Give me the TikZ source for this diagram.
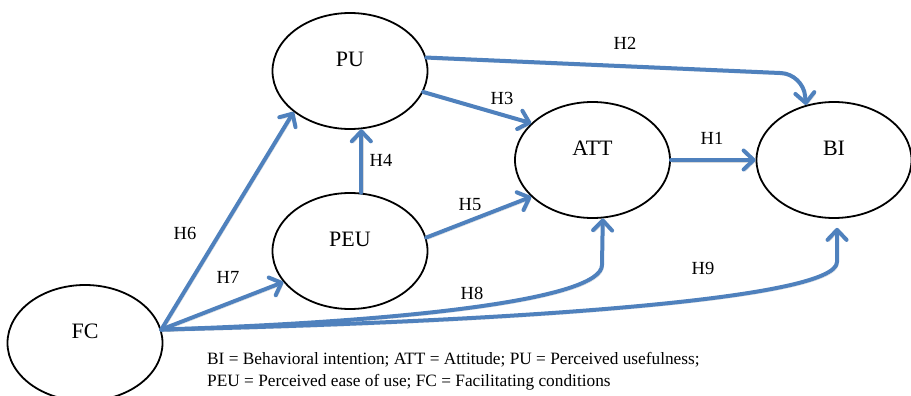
\documentclass[tikz,border=0pt]{standalone}
\usepackage{fontspec}
\setmainfont{Liberation Serif}
\usetikzlibrary{shapes.geometric,arrows.meta}
\definecolor{arrblue}{HTML}{4F81BD}
\tikzset{
  ell/.style={ellipse, draw=black, line width=1.8pt, minimum width=155pt, minimum height=116pt, inner sep=0pt},
  elab/.style={font=\fontsize{22}{26}\selectfont, inner sep=0pt, yshift=12pt},
  hlab/.style={font=\fontsize{18.5}{22}\selectfont, inner sep=0pt},
  legtext/.style={font=\fontsize{17.3}{22}\selectfont, inner sep=0pt, anchor=base west},
  conn/.style={draw=arrblue, line width=4pt, line cap=round, line join=round,
    -{Straight Barb[length=10pt,width=19pt,line cap=round,line join=round]},
    preaction={draw=black, opacity=0.15, transform canvas={shift={(1.5pt,-2pt)}}}},
}
\begin{document}
\begin{tikzpicture}[x=1pt,y=-1pt]
\useasboundingbox (0,0) rectangle (911,396);

% constructs
\node[ell, label={[elab,name=tPU]center:PU}] (PU) at (350,71) {};
\node[ell, label={[elab,name=tPEU]center:PEU}] (PEU) at (350,251) {};
\node[ell, label={[elab,name=tATT]center:ATT}] (ATT) at (592.5,160) {};
\node[ell, label={[elab,name=tBI]center:BI}] (BI) at (834,160) {};
\node[ell, label={[elab,name=tFC]center:FC}] (FC) at (85,343) {};

% connectors
\draw[conn] (ATT.east) -- (BI.west);
\coordinate (h2c) at (803,74);
\draw[conn, rounded corners=22pt] (PU.10) -- (h2c) -- (BI.117);
\draw[conn] (PU.-16) -- (ATT.149);
\draw[conn] (PEU.79) -- (PU.281);
\draw[conn] (PEU.10) -- (ATT.211);
\draw[conn] (FC.10) -- (PU.216);
\draw[conn] (FC.10) -- (PEU.205);
\draw[conn] (FC.10) .. controls (400,322) and (602,300) .. (602,265) -- (ATT.280);
\draw[conn, shorten >=9pt] (FC.10) .. controls (500,322) and (837,300) .. (837,262) -- (BI.273);

% hypothesis labels
\node[hlab] (H1) at (712,138) {H1};
\node[hlab] (H2) at (625,43) {H2};
\node[hlab] (H3) at (502,98) {H3};
\node[hlab] (H4) at (381,160) {H4};
\node[hlab] (H5) at (470,205) {H5};
\node[hlab] (H6) at (185,233) {H6};
\node[hlab] (H7) at (228,277) {H7};
\node[hlab] (H8) at (472,293) {H8};
\node[hlab] (H9) at (703,268) {H9};

% legend
\node[legtext] (leg1) at (207,364) {BI = Behavioral intention; ATT = Attitude; PU = Perceived usefulness;};
\node[legtext] (leg2) at (207,386) {PEU = Perceived ease of use; FC = Facilitating conditions};
\end{tikzpicture}
\end{document}
